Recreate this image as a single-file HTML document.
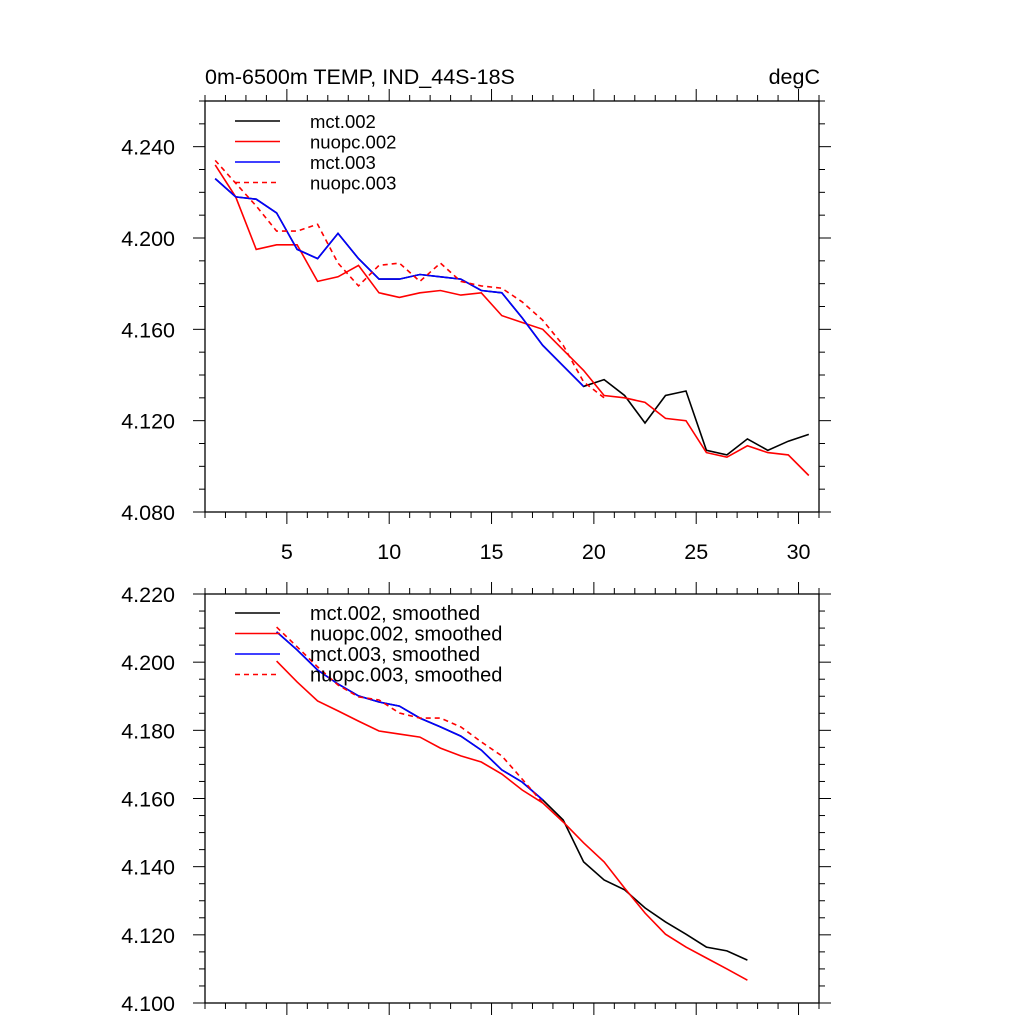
<!DOCTYPE html>
<html><head><meta charset="utf-8"><style>
html,body{margin:0;padding:0;background:#fff;}
svg{display:block;font-family:"Liberation Sans",Arial,sans-serif;}
</style></head><body>
<svg id="chart" width="1024" height="1024" viewBox="0 0 1024 1024" xmlns="http://www.w3.org/2000/svg">
<text x="205" y="84" font-size="21.5">0m-6500m TEMP, IND_44S-18S</text>
<text x="820" y="84" font-size="21.5" text-anchor="end">degC</text>
</svg>
<script>
// ---- data ----
const xTop = [1.5,2.5,3.5,4.5,5.5,6.5,7.5,8.5,9.5,10.5,11.5,12.5,13.5,14.5,15.5,16.5,17.5,18.5,19.5,20.5,21.5,22.5,23.5,24.5,25.5,26.5,27.5,28.5,29.5,30.5];
const mct002 = [4.226,4.218,4.217,4.211,4.195,4.191,4.202,4.191,4.182,4.182,4.184,4.183,4.182,4.177,4.176,4.165,4.153,4.144,4.135,4.138,4.131,4.119,4.131,4.133,4.107,4.105,4.112,4.107,4.111,4.114];
const nuopc002 = [4.232,4.218,4.195,4.197,4.197,4.181,4.183,4.188,4.176,4.174,4.176,4.177,4.175,4.176,4.166,4.163,4.160,4.151,4.142,4.131,4.130,4.128,4.121,4.120,4.106,4.104,4.109,4.106,4.105,4.096];
const mct003 = [4.226,4.218,4.217,4.211,4.195,4.191,4.202,4.191,4.182,4.182,4.184,4.183,4.182,4.177,4.176,4.165,4.153,4.144,4.135];
const nuopc003 = [4.234,4.224,4.214,4.203,4.203,4.206,4.189,4.179,4.188,4.189,4.181,4.189,4.181,4.179,4.178,4.172,4.164,4.153,4.137,4.130];
const xBot = [4.5,5.5,6.5,7.5,8.5,9.5,10.5,11.5,12.5,13.5,14.5,15.5,16.5,17.5,18.5,19.5,20.5,21.5,22.5,23.5,24.5,25.5,26.5,27.5];
const mct002s = [4.2089,4.2036,4.1977,4.1936,4.1901,4.1883,4.1871,4.1836,4.1810,4.1783,4.1742,4.1684,4.1648,4.1596,4.1537,4.1414,4.1361,4.1332,4.1279,4.1238,4.1202,4.1164,4.1153,4.1126];
const nuopc002s = [4.2003,4.1942,4.1886,4.1857,4.1827,4.1798,4.1789,4.1780,4.1748,4.1725,4.1707,4.1672,4.1625,4.1587,4.1531,4.1470,4.1414,4.1337,4.1264,4.1202,4.1164,4.1132,4.1100,4.1067];
const mct003s = [4.2089,4.2036,4.1977,4.1936,4.1901,4.1883,4.1871,4.1836,4.1810,4.1783,4.1742,4.1684,4.1648,4.1596];
const nuopc003s = [4.2103,4.2045,4.1986,4.1933,4.1898,4.1889,4.1851,4.1836,4.1836,4.1810,4.1766,4.1725,4.1657,4.1587];
const xTickLabels = [5,10,15,20,25,30];
const yTicksTop = [4.080,4.120,4.160,4.200,4.240];
const yTicksBot = [4.100,4.120,4.140,4.160,4.180,4.200,4.220];
const legendTop = ["mct.002","nuopc.002","mct.003","nuopc.003"];
const legendBot = ["mct.002, smoothed","nuopc.002, smoothed","mct.003, smoothed","nuopc.003, smoothed"];

const NS = "http://www.w3.org/2000/svg";
const svg = document.getElementById('chart');
function mk(tag, attrs, parent){const e=document.createElementNS(NS,tag);for(const k in attrs)e.setAttribute(k,attrs[k]);(parent||svg).appendChild(e);return e;}

const styles = [{c:"#000",d:""},{c:"#ff0000",d:""},{c:"#0000ff",d:""},{c:"#ff0000",d:"5,4"}];

function panel(name, top, bottom, ymin, ymax, yMajor, yMinor, ticks, xs, series, legend, legY, legFont){
  const L=205,R=819;
  const xs_ = v => L + (v-1)/(31-1)*(R-L);
  const ys_ = v => bottom - (v-ymin)/(ymax-ymin)*(bottom-top);
  const g = mk('g',{});
  
  
  series.forEach((s,i)=>{
    const pts = s.map((v,j)=>xs_(xs[j]).toFixed(1)+','+ys_(v).toFixed(1)).join(' ');
    const p = mk('polyline',{points:pts,fill:'none',stroke:styles[i].c,'stroke-width':1.6,'stroke-dasharray':styles[i].d},g);
    
    
  });
  const f = mk('rect',{x:L,y:top,width:R-L,height:bottom-top,fill:'none',stroke:'#000','stroke-width':1.3},g);
  
  
  for(let v=1; v<=31; v++){
    const x=xs_(v), len = (v%5===0)?12:6;
    mk('line',{x1:x,y1:bottom,x2:x,y2:bottom+len,stroke:'#000','stroke-width':1},g);
    mk('line',{x1:x,y1:top,x2:x,y2:top-len,stroke:'#000','stroke-width':1},g);
  }
  const n = Math.round((ymax-ymin)/yMinor);
  for(let k=0;k<=n;k++){
    const v = ymin + k*yMinor, y=ys_(v);
    const major = Math.abs(((v-ymin)/yMajor) - Math.round((v-ymin)/yMajor))<1e-6;
    const len = major?12:6;
    mk('line',{x1:L,y1:y,x2:L-len,y2:y,stroke:'#000','stroke-width':1},g);
    mk('line',{x1:R,y1:y,x2:R+len,y2:y,stroke:'#000','stroke-width':1},g);
  }
  ticks.forEach(v=>{
    const t = mk('text',{x:175,y:ys_(v)+8,'font-size':21.5,'text-anchor':'end'},g);
    t.textContent = v.toFixed(3);
    
    
  });
  legend.forEach((lab,i)=>{
    const y = legY + i*20.5;
    mk('line',{x1:235,y1:y,x2:280,y2:y,stroke:styles[i].c,'stroke-width':1.4,'stroke-dasharray':styles[i].d},g);
    const t = mk('text',{x:310,y:y+7,'font-size':legFont},g);
    t.textContent = lab;
    
    
  });
  return xs_;
}
const xsTop = panel('top-panel',101,512,4.08,4.26,0.04,0.01,yTicksTop,xTop,[mct002,nuopc002,mct003,nuopc003],legendTop,121,18.5);
panel('bottom-panel',594,1003,4.10,4.22,0.02,0.005,yTicksBot,xBot,[mct002s,nuopc002s,mct003s,nuopc003s],legendBot,613,20);
xTickLabels.forEach(v=>{
  const t = mk('text',{x:xsTop(v),y:559,'font-size':21.5,'text-anchor':'middle'});
  t.textContent = v;
  
  
});
</script>
</body></html>
